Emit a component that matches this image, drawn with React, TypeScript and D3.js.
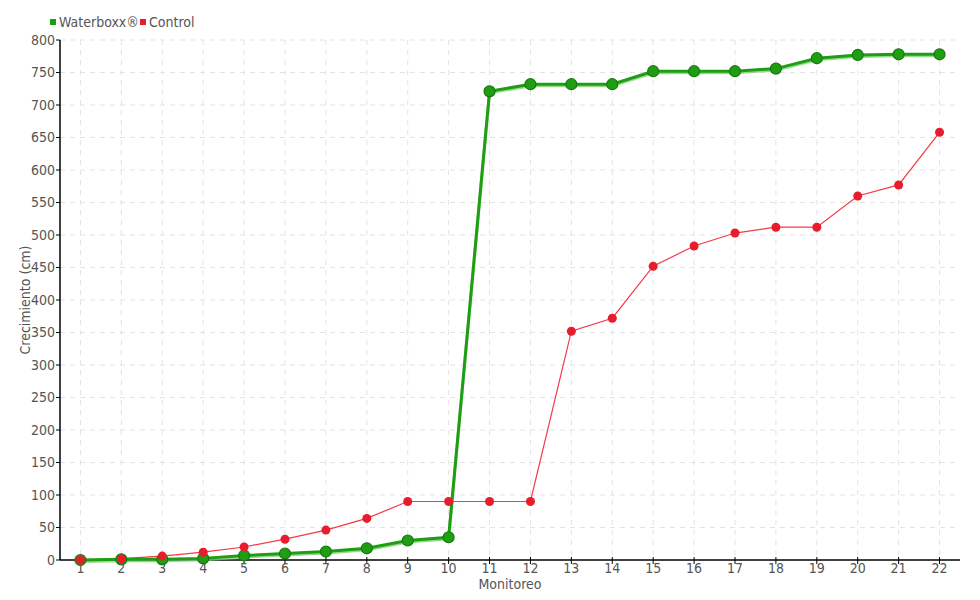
import React from "react";
import * as d3 from "d3";

const monitoreo = ["1","2","3","4","5","6","7","8","9","10","11","12","13","14","15","16","17","18","19","20","21","22"];
const waterboxx = [0, 1, 1, 2.5, 7, 10, 13, 18, 30, 35, 721, 732, 732, 732, 752, 752, 752, 756, 772, 777, 778, 778];
const control = [0, 2, 6, 12, 20, 32, 46, 64, 90, 90, 90, 90, 352, 372, 452, 483, 503, 512, 512, 560, 577, 658];
const yTicks = [0,50,100,150,200,250,300,350,400,450,500,550,600,650,700,750,800];

const W = 980, H = 600;
const M = { left: 60, right: 960, top: 40, bottom: 560 };
const FONT = "'DejaVu Sans Condensed', 'Liberation Sans Narrow', 'DejaVu Sans', sans-serif";

export default function App() {
  const x = d3.scaleBand<string>().domain(monitoreo).range([M.left, M.right]);
  const cx = (d: string) => (x(d) as number) + x.bandwidth() / 2;
  const y = d3.scaleLinear().domain([0, 800]).range([M.bottom, M.top]);
  const line = d3.line<number>().x((_, i) => cx(monitoreo[i])).y((v) => y(v));

  return (
    <svg width={W} height={H} style={{ position: "absolute", left: 0, top: 0, background: "#fff" }} fontFamily={FONT}>
      {/* grid */}
      {yTicks.slice(1).map((t) => (
        <line key={"gy" + t} x1={M.left} x2={M.right} y1={y(t)} y2={y(t)} stroke="#e3e3e3" strokeDasharray="5,5" />
      ))}
      {monitoreo.map((m) => (
        <line key={"gx" + m} x1={cx(m)} x2={cx(m)} y1={M.top} y2={M.bottom} stroke="#e3e3e3" strokeDasharray="5,5" />
      ))}
      {/* axes */}
      <line x1={M.left} x2={M.left} y1={M.top} y2={M.bottom} stroke="#000" strokeWidth={1.5} />
      <line x1={M.left} x2={M.right} y1={M.bottom} y2={M.bottom} stroke="#000" strokeWidth={1.5} />
      {yTicks.map((t) => (
        <g key={"ty" + t}>
          <line x1={M.left - 4} x2={M.left} y1={y(t)} y2={y(t)} stroke="#000" />
          <text x={M.left - 5} y={y(t)} dy="0.35em" textAnchor="end" fontSize={14} fill="#555">{t}</text>
        </g>
      ))}
      {monitoreo.map((m) => (
        <g key={"tx" + m}>
          <line x1={cx(m)} x2={cx(m)} y1={M.bottom - 3} y2={M.bottom + 4} stroke="#000" />
          <text x={cx(m)} y={M.bottom + 13} textAnchor="middle" fontSize={14} fill="#555">{m}</text>
        </g>
      ))}
      <text x={(M.left + M.right) / 2} y={589} textAnchor="middle" fontSize={14} fill="#555">Monitoreo</text>
      <text transform={`translate(30,${(M.top + M.bottom) / 2}) rotate(-90)`} textAnchor="middle" fontSize={14} fill="#555">Crecimiento (cm)</text>

      {/* Control series */}
      <path d={line(control) || ""} fill="none" stroke="#f23a48" strokeWidth={1.2} />
      {/* Waterboxx series */}
      <path d={line(waterboxx) || ""} fill="none" stroke="#7ccf72" strokeWidth={3} transform="translate(0,1.5)" opacity={0.8} />
      <path d={line(waterboxx) || ""} fill="none" stroke="#1f9e14" strokeWidth={3} />
      {waterboxx.map((v, i) => (
        <circle key={"wp" + i} cx={cx(monitoreo[i])} cy={y(v)} r={5.5} fill="#1f9e14" stroke="#157a0e" strokeWidth={1.2} />
      ))}
      {control.map((v, i) => (
        <circle key={"cp" + i} cx={cx(monitoreo[i])} cy={y(v)} r={4.5} fill="#e81c2c" />
      ))}

      {/* legend */}
      <rect x={50} y={19} width={6} height={6} fill="#1f9e14" />
      <text x={59} y={22} dy="0.35em" fontSize={14} fill="#555">Waterboxx®</text>
      <rect x={140} y={19} width={6} height={6} fill="#e81c2c" />
      <text x={149} y={22} dy="0.35em" fontSize={14} fill="#555">Control</text>
    </svg>
  );
}
